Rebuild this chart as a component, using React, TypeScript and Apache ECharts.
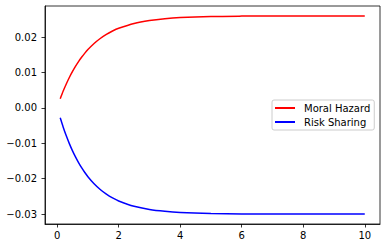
import React, { useEffect, useRef } from "react";
import * as echarts from "echarts";

const xValues = [0.1, 0.2, 0.3, 0.4, 0.5, 0.6, 0.7, 0.8, 0.9, 1.0, 1.2, 1.4, 1.6, 1.8, 2.0, 2.5, 3.0, 3.5, 4.0, 5.0, 6.0, 7.0, 8.0, 9.0, 10.0];
const moralHazard = [0.0026, 0.00483, 0.00684, 0.00867, 0.01031, 0.01181, 0.01316, 0.01438, 0.01549, 0.01649, 0.01821, 0.01962, 0.02078, 0.02173, 0.0225, 0.02388, 0.02471, 0.02522, 0.02553, 0.02583, 0.02594, 0.02598, 0.026, 0.026, 0.026];
const riskSharing = [-0.0028, -0.00551, -0.00795, -0.01015, -0.01213, -0.01391, -0.01551, -0.01696, -0.01826, -0.01943, -0.02143, -0.02305, -0.02437, -0.02544, -0.0263, -0.02781, -0.02871, -0.02923, -0.02955, -0.02984, -0.02995, -0.02998, -0.03, -0.03, -0.03];
const xTicks = [0, 2, 4, 6, 8, 10];
const yTicks = [-0.03, -0.02, -0.01, 0.0, 0.01, 0.02];
const seriesNames = ["Moral Hazard", "Risk Sharing"];

const FONT = "DejaVu Sans";

export default function App() {
  const ref = useRef<HTMLDivElement>(null);
  useEffect(() => {
    if (!ref.current) return;
    const chart = echarts.init(ref.current, undefined, { renderer: "svg" });
    const axisCommon = {
      axisLine: { show: true, onZero: false, lineStyle: { color: "#000", width: 0.8 } },
      axisTick: { show: true, inside: false, length: 3.5, lineStyle: { color: "#000", width: 0.8 } },
      splitLine: { show: false },
    };
    chart.setOption({
      animation: false,
      backgroundColor: "#fff",
      grid: { left: 45, top: 6, right: 6, bottom: 24, show: true, borderColor: "#000", borderWidth: 0.8, containLabel: false },
      xAxis: {
        type: "value",
        min: -0.395,
        max: 10.495,
        ...axisCommon,
        axisTick: { ...axisCommon.axisTick, customValues: xTicks },
        axisLabel: {
          customValues: xTicks,
          margin: 6,
          fontFamily: FONT,
          fontSize: 10,
          color: "#000",
          formatter: (v: number) => String(Math.round(v)),
        },
      },
      yAxis: {
        type: "value",
        min: -0.0328,
        max: 0.0288,
        ...axisCommon,
        axisTick: { ...axisCommon.axisTick, customValues: yTicks },
        axisLabel: {
          customValues: yTicks,
          margin: 8,
          fontFamily: FONT,
          fontSize: 10,
          color: "#000",
          formatter: (v: number) => {
            const s = Math.abs(v) < 1e-9 ? "0.00" : v.toFixed(2);
            return s.replace("-", "\u2212");
          },
        },
      },
      legend: {
        orient: "vertical",
        left: 272,
        top: 100,
        padding: [3, 4, 3, 3],
        itemGap: 4,
        itemWidth: 20,
        itemHeight: 2,
        backgroundColor: "#fff",
        borderColor: "#ccc",
        borderWidth: 1,
        borderRadius: 2,
        textStyle: { fontFamily: FONT, fontSize: 10, color: "#000", padding: [0, 0, 0, 4] },
        data: seriesNames.map((n) => ({ name: n, icon: "rect" })),
      },
      series: [
        {
          name: seriesNames[0],
          type: "line",
          data: xValues.map((x, i) => [x, moralHazard[i]]),
          showSymbol: false,
          symbol: "none",
          smooth: 0.3,
          color: "#ff0000",
          lineStyle: { color: "#ff0000", width: 1.5 },
        },
        {
          name: seriesNames[1],
          type: "line",
          data: xValues.map((x, i) => [x, riskSharing[i]]),
          showSymbol: false,
          symbol: "none",
          smooth: 0.3,
          color: "#0000ff",
          lineStyle: { color: "#0000ff", width: 1.5 },
        },
      ],
    });
    return () => chart.dispose();
  }, []);
  return <div ref={ref} style={{ position: "fixed", left: 0, top: 0, width: 386, height: 248 }} />;
}
